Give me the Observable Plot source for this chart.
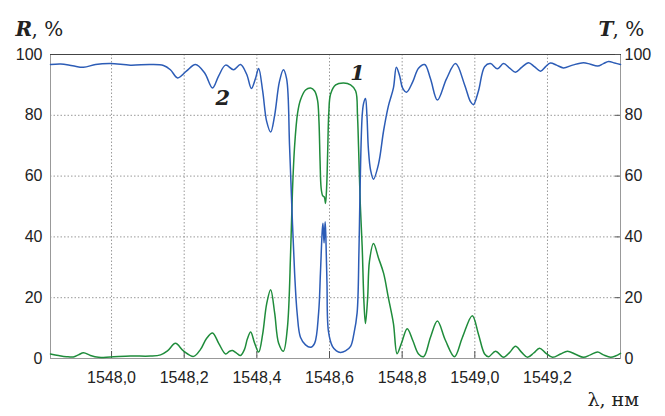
<!DOCTYPE html>
<html>
<head>
<meta charset="utf-8">
<script src="https://cdn.jsdelivr.net/npm/d3@7"></script>
<script src="https://cdn.jsdelivr.net/npm/@observablehq/plot@0.6"></script>
<style>
  html, body { margin: 0; padding: 0; background: #fff; }
</style>
</head>
<body>
<div id="chart"></div>
<script>
// Curve 2: reflection R, %
const lambdaR = [1547.832,1547.860,1547.893,1547.923,1547.956,1547.997,1548.052,1548.107,1548.143,1548.162,
  1548.182,1548.206,1548.231,1548.256,1548.278,1548.295,1548.314,1548.336,1548.355,1548.372,
  1548.385,1548.396,1548.405,1548.416,1548.427,1548.438,1548.449,1548.462,1548.473,1548.482,
  1548.490,1548.497,1548.504,1548.511,1548.520,1548.534,1548.548,1548.559,1548.570,1548.575,
  1548.580,1548.582,1548.585,1548.588,1548.590,1548.593,1548.597,1548.608,1548.619,1548.630,
  1548.644,1548.658,1548.667,1548.676,1548.681,1548.684,1548.690,1548.694,1548.699,1548.703,
  1548.707,1548.713,1548.721,1548.735,1548.749,1548.762,1548.776,1548.784,1548.793,1548.801,
  1548.812,1548.829,1548.845,1548.862,1548.878,1548.897,1548.922,1548.947,1548.972,1548.988,
  1548.996,1549.010,1549.027,1549.043,1549.062,1549.079,1549.096,1549.112,1549.129,1549.148,
  1549.164,1549.181,1549.195,1549.208,1549.225,1549.244,1549.269,1549.299,1549.318,1549.338,
  1549.354,1549.368,1549.385,1549.401];
const valuesR = [96.7,96.9,96.3,95.8,96.7,97.0,96.5,96.7,96.4,95.0,
  92.3,94.5,96.7,94.0,89.0,93.0,96.5,95.0,96.7,93.5,
  88.8,92.0,95.4,88.0,78.0,74.5,80.0,91.0,95.0,92.0,
  70.0,47.7,28.0,14.8,7.0,4.5,3.7,5.0,15.0,28.0,
  42.0,44.5,38.0,45.0,40.0,25.0,9.0,4.0,2.5,2.0,
  2.5,4.0,8.0,15.0,35.0,55.0,80.0,84.0,85.5,80.0,
  69.0,62.0,59.0,64.0,75.0,83.0,89.0,95.8,93.0,89.0,
  87.6,91.0,95.5,96.7,92.0,85.0,92.0,97.0,90.0,84.5,
  83.5,88.0,96.0,97.0,95.3,97.0,95.5,94.2,95.8,97.3,
  96.0,94.5,96.0,97.2,96.5,95.6,96.5,97.3,96.8,96.2,
  97.0,97.7,97.2,96.7];

// Curve 1: transmission T, %
const lambdaT = [1547.832,1547.854,1547.876,1547.895,1547.909,1547.923,1547.942,1547.964,1547.997,1548.052,
  1548.107,1548.135,1548.154,1548.176,1548.198,1548.226,1548.245,1548.261,1548.278,1548.295,
  1548.314,1548.325,1548.333,1548.344,1548.355,1548.366,1548.374,1548.383,1548.394,1548.405,
  1548.416,1548.427,1548.438,1548.449,1548.460,1548.473,1548.484,1548.493,1548.498,1548.504,
  1548.512,1548.520,1548.534,1548.548,1548.559,1548.567,1548.571,1548.574,1548.577,1548.581,
  1548.586,1548.589,1548.592,1548.595,1548.598,1548.603,1548.617,1548.639,1548.658,1548.672,
  1548.677,1548.680,1548.685,1548.690,1548.695,1548.699,1548.705,1548.710,1548.721,1548.735,
  1548.749,1548.762,1548.776,1548.786,1548.798,1548.814,1548.829,1548.845,1548.859,1548.878,
  1548.897,1548.919,1548.944,1548.966,1548.993,1549.010,1549.027,1549.038,1549.057,1549.079,
  1549.096,1549.112,1549.129,1549.145,1549.162,1549.178,1549.195,1549.214,1549.236,1549.255,
  1549.277,1549.299,1549.318,1549.338,1549.354,1549.374,1549.387,1549.401];
const valuesT = [1.5,1.0,0.6,0.5,1.2,1.9,1.0,0.4,0.5,0.8,
  0.8,1.2,2.5,5.0,2.5,0.7,3.0,6.5,8.4,5.0,
  1.5,2.4,2.6,1.8,1.0,3.0,6.5,8.7,5.0,2.1,
  8.0,18.0,22.6,15.0,5.0,2.4,10.0,35.0,55.0,70.0,
  80.6,85.0,88.3,89.0,88.0,85.0,78.0,65.0,56.0,53.6,
  53.0,51.0,56.0,68.0,80.6,87.0,90.0,90.6,90.0,88.0,
  80.0,69.4,50.0,36.6,18.0,11.5,20.0,32.0,37.8,33.0,
  28.0,20.0,11.5,1.6,5.0,9.8,6.0,1.5,0.6,7.0,
  12.3,6.0,0.6,7.0,14.1,8.0,1.5,0.6,2.4,0.4,
  2.0,4.0,2.0,0.4,1.8,3.4,1.8,0.4,1.5,2.4,
  1.4,0.4,1.2,2.1,1.2,0.4,0.8,1.7];

const xTicks = [1548.0, 1548.2, 1548.4, 1548.6, 1548.8, 1549.0, 1549.2];
const yTicks = [0, 20, 40, 60, 80, 100];
const curveLabels = ["1", "2"];
const curveLabelX = [1548.677, 1548.306];
const curveLabelY = [93.8, 85.5];

const seriesR = lambdaR.map((l, i) => ({lambda: l, value: valuesR[i]}));
const seriesT = lambdaT.map((l, i) => ({lambda: l, value: valuesT[i]}));
const labelRows = curveLabels.map((t, i) => ({text: t, lambda: curveLabelX[i], value: curveLabelY[i]}));

const fmt = d => d.toFixed(1).replace(".", ",");
const serif = "'DejaVu Serif', 'Liberation Serif', serif";

const chart = Plot.plot({
  width: 665,
  height: 416,
  marginLeft: 50,
  marginRight: 45,
  marginTop: 54,
  marginBottom: 58,
  style: {fontFamily: "'Liberation Sans', Arial, sans-serif", fontSize: "16px", color: "#222", background: "#fff"},
  x: {domain: [1547.832, 1549.401]},
  y: {domain: [0, 100]},
  marks: [
    Plot.gridX(xTicks, {stroke: "#999", strokeOpacity: 1, strokeDasharray: "1.5,2"}),
    Plot.gridY(yTicks, {stroke: "#999", strokeOpacity: 1, strokeDasharray: "1.5,2"}),
    Plot.frame({stroke: "#999"}),
    Plot.frame({anchor: "top", stroke: "#444"}),
    Plot.tickX(xTicks, {x: d => d, stroke: "#555", insetTop: 297}),
    Plot.tickY(yTicks, {y: d => d, stroke: "#555", insetLeft: 565}),
    Plot.axisX(xTicks, {tickSize: 0, tickPadding: 13, tickFormat: fmt, label: null}),
    Plot.axisY(yTicks, {anchor: "left", tickSize: 0, tickPadding: 8, label: null}),
    Plot.axisY(yTicks, {anchor: "right", tickSize: 0, tickPadding: 4, label: null}),
    Plot.line(seriesT, {x: "lambda", y: "value", stroke: "#1f8c3b", strokeWidth: 1.5, curve: "catmull-rom"}),
    Plot.line(seriesR, {x: "lambda", y: "value", stroke: "#2c5cb6", strokeWidth: 1.5, curve: "catmull-rom"}),
    Plot.text(labelRows, {x: "lambda", y: "value", text: "text", fontFamily: serif, fontStyle: "italic", fontWeight: "bold", fontSize: 21, fill: "#222"}),
    // axis titles
    Plot.text(["R"], {frameAnchor: "top-left", dx: -35, dy: -33, textAnchor: "start", fontFamily: serif, fontStyle: "italic", fontWeight: "bold", fontSize: 20, fill: "#222"}),
    Plot.text([", %"], {frameAnchor: "top-left", dx: -19, dy: -33, textAnchor: "start", fontFamily: serif, fontSize: 20, fill: "#222"}),
    Plot.text(["T"], {frameAnchor: "top-right", dx: -22, dy: -33, textAnchor: "start", fontFamily: serif, fontStyle: "italic", fontWeight: "bold", fontSize: 20, fill: "#222"}),
    Plot.text([", %"], {frameAnchor: "top-right", dx: -8, dy: -33, textAnchor: "start", fontFamily: serif, fontSize: 20, fill: "#222"}),
    Plot.text(["λ, нм"], {frameAnchor: "bottom-right", dx: -33, dy: 47, textAnchor: "start", fontFamily: serif, fontSize: 19, fill: "#222"})
  ]
});
document.getElementById("chart").appendChild(chart);
</script>
</body>
</html>
